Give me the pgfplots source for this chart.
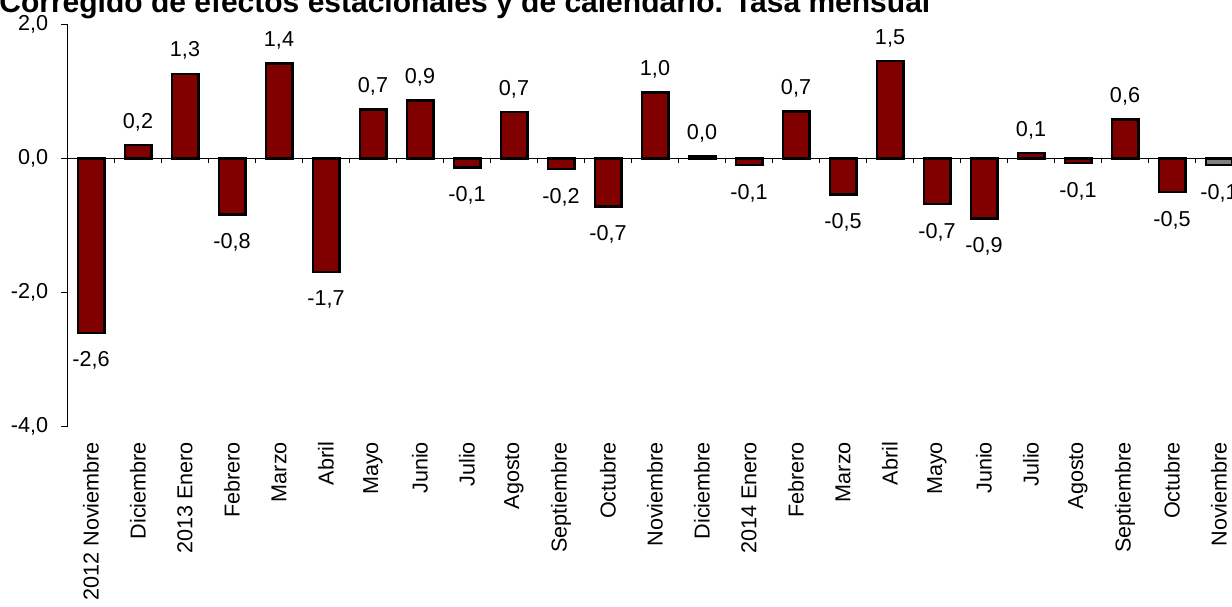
\documentclass[border=0pt]{standalone}
\usepackage{pgfplots}
\usepackage{pgfplotstable}
\pgfplotsset{compat=1.18}
\usepackage{fontspec}
\setmainfont{Liberation Sans}
\definecolor{barred}{RGB}{128,0,0}
\definecolor{bargrey}{RGB}{128,128,128}

\pgfplotstableread{
x y lab
1 0.20 0,2
2 1.26 1,3
4 1.41 1,4
6 0.73 0,7
7 0.86 0,9
9 0.69 0,7
12 0.98 1,0
13 0.03 0,0
15 0.70 0,7
17 1.45 1,5
20 0.08 0,1
22 0.58 0,6
}\postab

\pgfplotstableread{
x y lab
0 -2.60 -2,6
3 -0.84 -0,8
5 -1.69 -1,7
8 -0.14 -0,1
10 -0.16 -0,2
11 -0.72 -0,7
14 -0.10 -0,1
16 -0.54 -0,5
18 -0.68 -0,7
19 -0.90 -0,9
21 -0.07 -0,1
23 -0.50 -0,5
}\negtab

\pgfplotstableread{
x y lab
24 -0.10 -0,1
}\greytab

\begin{document}
\begin{tikzpicture}[x=1pt,y=1pt]
\path[use as bounding box] (0,0) rectangle (616,303);
\node[anchor=base west, inner sep=0pt, font=\fontsize{15}{18}\selectfont\bfseries] at (-0.5,296.8) {Corregido de efectos estacionales y de calendario. Tasa mensual};
\begin{axis}[
  at={(33.75pt,89.65pt)}, anchor=south west,
  scale only axis, width=587.5pt, height=201.3pt,
  xmin=-0.5, xmax=24.5, ymin=-4, ymax=2,
  axis y line*=left,
  axis x line*=bottom,
  x axis line style={draw=none},
  xtick={0,...,24},
  xtick style={draw=none},
  xticklabels={2012 Noviembre,Diciembre,2013 Enero,Febrero,Marzo,Abril,Mayo,Junio,Julio,Agosto,Septiembre,Octubre,Noviembre,Diciembre,2014 Enero,Febrero,Marzo,Abril,Mayo,Junio,Julio,Agosto,Septiembre,Octubre,Noviembre},
  xticklabel style={rotate=90, anchor=east, inner sep=0pt},
  xticklabel shift=7.5pt,
  ytick={-4,-2,0,2},
  yticklabels={{-4,0},{-2,0},{0,0},{2,0}},
  ytick align=outside,
  major tick length=3pt,
  y axis line style={line width=0.6pt, black},
  ytick style={line width=0.6pt, black},
  yticklabel style={anchor=east, inner sep=0pt},
  yticklabel shift=6.5pt,
  every tick label/.append style={font=\fontsize{10.8}{12}\selectfont},
  clip=false,
]
\draw[line width=0.6pt] (axis cs:-0.5,0) -- (axis cs:24.5,0);
\pgfplotsinvokeforeach{0,...,23}{\draw[line width=0.6pt] (axis cs:#1.5,0) -- ++(0pt,-2.5pt);}
\addplot[ybar, bar width=13.3pt, bar shift=0pt, fill=barred, draw=black, line width=1.2pt,
  nodes near coords, point meta=explicit symbolic,
  nodes near coords style={anchor=center, yshift=11.5pt, inner sep=0pt, font=\fontsize{10.8}{12}\selectfont}]
  table[x=x, y=y, meta=lab] {\postab};
\addplot[ybar, bar width=13.3pt, bar shift=0pt, fill=barred, draw=black, line width=1.2pt,
  nodes near coords, point meta=explicit symbolic,
  nodes near coords style={anchor=center, yshift=-14pt, inner sep=0pt, font=\fontsize{10.8}{12}\selectfont}]
  table[x=x, y=y, meta=lab] {\negtab};
\addplot[ybar, bar width=13.3pt, bar shift=0pt, fill=bargrey, draw=black, line width=1.2pt,
  nodes near coords, point meta=explicit symbolic,
  nodes near coords style={anchor=center, yshift=-14pt, inner sep=0pt, font=\fontsize{10.8}{12}\selectfont}]
  table[x=x, y=y, meta=lab] {\greytab};
\end{axis}
\end{tikzpicture}
\end{document}
